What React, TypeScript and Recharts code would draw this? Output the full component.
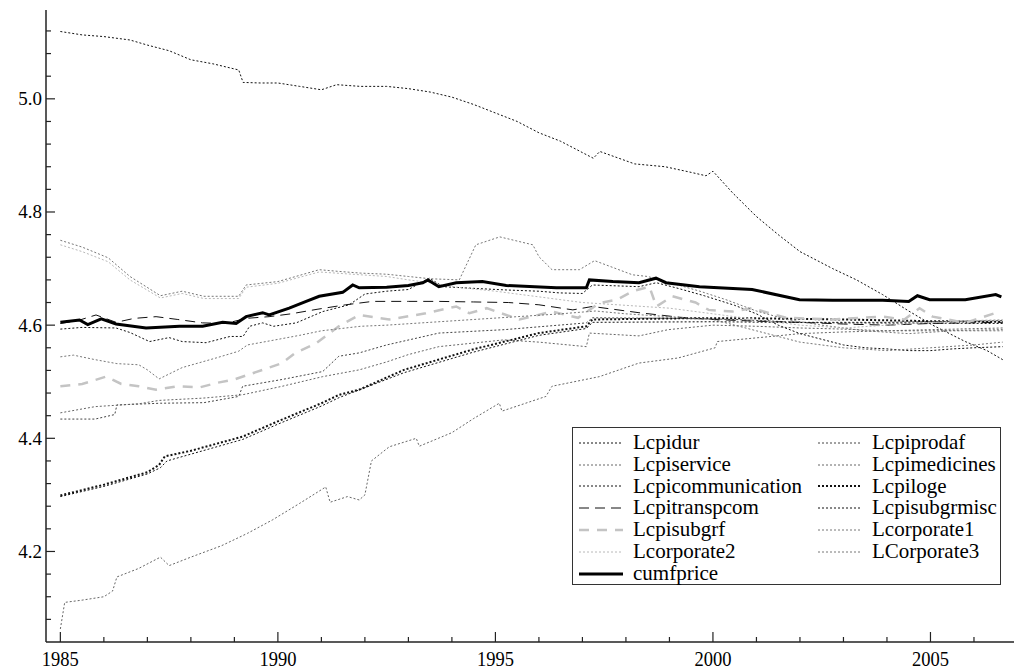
import React from "react";
import { LineChart, Line, XAxis, YAxis } from "recharts";

// [year, log price]
const lcpidur: [number, number][] = [
  [1985.0, 5.119], [1985.5, 5.113], [1986.0, 5.11], [1986.6, 5.104], [1987.0, 5.095],
  [1987.5, 5.085], [1988.0, 5.069], [1988.5, 5.062], [1989.1, 5.051], [1989.2, 5.029],
  [1989.6, 5.028], [1990.0, 5.028], [1990.5, 5.022], [1991.0, 5.016], [1991.35, 5.025],
  [1991.9, 5.022], [1992.5, 5.022], [1993.0, 5.018], [1993.5, 5.012], [1994.0, 5.003],
  [1994.5, 4.99], [1995.0, 4.975], [1995.5, 4.96], [1996.0, 4.94], [1996.5, 4.925],
  [1997.0, 4.905], [1997.25, 4.895], [1997.4, 4.907], [1998.2, 4.885], [1998.9, 4.88],
  [1999.5, 4.87], [1999.84, 4.864], [2000.0, 4.872], [2000.45, 4.834], [2001.0, 4.792],
  [2001.5, 4.76], [2002.0, 4.73], [2002.75, 4.7], [2003.3, 4.68], [2003.9, 4.654],
  [2004.5, 4.625], [2005.05, 4.6], [2005.8, 4.571], [2006.3, 4.555], [2006.66, 4.539],
];

const lcpiprodaf: [number, number][] = [
  [1985.0, 4.434], [1985.8, 4.434], [1986.25, 4.442], [1986.3, 4.459], [1987.3, 4.462],
  [1988.3, 4.463], [1989.1, 4.474], [1989.19, 4.492], [1990.1, 4.504], [1991.03, 4.518],
  [1991.4, 4.545], [1991.87, 4.551], [1992.5, 4.565], [1993.7, 4.586], [1995.2, 4.592],
  [1997.09, 4.604], [1997.23, 4.613], [1999.2, 4.612], [2000.5, 4.61], [2002.0, 4.605],
  [2004.0, 4.605], [2006.66, 4.608],
];

const lcpiservice: [number, number][] = [
  [1985.0, 4.445], [1985.8, 4.456], [1986.8, 4.461], [1987.27, 4.467], [1988.27, 4.471],
  [1989.19, 4.477], [1990.1, 4.492], [1991.03, 4.509], [1991.87, 4.521], [1992.5, 4.535],
  [1993.0, 4.548], [1993.7, 4.562], [1995.2, 4.574], [1996.0, 4.57], [1997.09, 4.562],
  [1997.16, 4.586], [1998.3, 4.581], [1998.97, 4.592], [2000.0, 4.6], [2001.0, 4.598],
  [2002.0, 4.595], [2003.0, 4.593], [2004.0, 4.59], [2005.0, 4.592], [2006.66, 4.595],
];

const lcpimedicines: [number, number][] = [
  [1985.0, 4.063], [1985.1, 4.11], [1985.5, 4.114], [1986.0, 4.12], [1986.2, 4.13],
  [1986.3, 4.155], [1986.8, 4.17], [1987.3, 4.19], [1987.5, 4.175], [1988.0, 4.19],
  [1988.7, 4.21], [1989.3, 4.232], [1989.88, 4.256], [1990.5, 4.285], [1991.1, 4.314],
  [1991.2, 4.287], [1991.6, 4.297], [1991.87, 4.291], [1992.0, 4.3], [1992.15, 4.36],
  [1992.56, 4.385], [1993.18, 4.4], [1993.25, 4.386], [1994.0, 4.41], [1994.5, 4.435],
  [1995.09, 4.462], [1995.15, 4.448], [1996.16, 4.474], [1996.3, 4.492], [1997.39, 4.509],
  [1998.3, 4.533], [1999.2, 4.542], [2000.05, 4.56], [2000.1, 4.571], [2001.2, 4.579],
  [2002.0, 4.585], [2003.0, 4.588], [2004.0, 4.59], [2005.0, 4.59], [2006.66, 4.592],
];

const lcpicommunication: [number, number][] = [
  [1985.0, 4.297], [1986.0, 4.315], [1987.0, 4.337], [1987.3, 4.348], [1987.45, 4.36],
  [1988.0, 4.372], [1989.19, 4.398], [1990.0, 4.425], [1991.0, 4.457], [1991.41, 4.472],
  [1992.9, 4.516], [1994.48, 4.552], [1996.0, 4.582], [1997.09, 4.594], [1997.23, 4.605],
  [2000.0, 4.606], [2003.0, 4.604], [2006.66, 4.603],
];

const lcpiloge: [number, number][] = [
  [1985.0, 4.299], [1986.0, 4.318], [1987.0, 4.34], [1987.27, 4.353], [1987.4, 4.368],
  [1988.0, 4.378], [1989.19, 4.403], [1990.0, 4.43], [1991.0, 4.462], [1991.41, 4.477],
  [1991.87, 4.486], [1992.9, 4.521], [1994.48, 4.557], [1996.0, 4.586], [1997.09, 4.598],
  [1997.23, 4.61], [1999.2, 4.612], [2001.0, 4.612], [2003.0, 4.61], [2005.0, 4.607],
  [2006.66, 4.606],
];

const lcpitranspcom: [number, number][] = [
  [1985.0, 4.603], [1985.4, 4.608], [1985.82, 4.618], [1986.28, 4.605], [1986.7, 4.612],
  [1987.2, 4.615], [1987.7, 4.61], [1988.27, 4.604], [1988.8, 4.603], [1989.27, 4.612],
  [1989.8, 4.615], [1990.3, 4.62], [1990.9, 4.628], [1991.56, 4.636], [1992.18, 4.642],
  [1993.0, 4.642], [1993.7, 4.642], [1994.5, 4.641], [1995.3, 4.64], [1996.0, 4.636],
  [1996.78, 4.627], [1997.23, 4.633], [1998.3, 4.622], [1999.23, 4.614], [2000.0, 4.61],
  [2001.0, 4.607], [2002.0, 4.605], [2003.0, 4.602], [2004.0, 4.6], [2005.0, 4.603],
  [2006.66, 4.605],
];

const lcpisubgrmisc: [number, number][] = [
  [1985.0, 4.593], [1985.5, 4.596], [1986.28, 4.595], [1986.6, 4.587], [1987.05, 4.571],
  [1987.5, 4.578], [1987.8, 4.571], [1988.35, 4.569], [1988.9, 4.58], [1989.2, 4.58],
  [1989.35, 4.598], [1989.65, 4.604], [1989.9, 4.598], [1990.42, 4.604], [1991.03, 4.624],
  [1991.64, 4.636], [1992.0, 4.655], [1992.5, 4.66], [1993.0, 4.663], [1993.48, 4.683],
  [1993.8, 4.668], [1994.5, 4.665], [1995.3, 4.662], [1996.0, 4.66], [1996.47, 4.657],
  [1997.0, 4.656], [1997.23, 4.671], [1998.3, 4.668], [1998.7, 4.675], [1999.2, 4.665],
  [1999.8, 4.652], [2000.5, 4.635], [2001.0, 4.62], [2001.5, 4.6], [2002.0, 4.585],
  [2002.5, 4.575], [2003.0, 4.565], [2003.5, 4.56], [2004.0, 4.558], [2004.5, 4.555],
  [2005.0, 4.555], [2005.5, 4.558], [2006.0, 4.56], [2006.66, 4.562],
];

const lcpisubgrf: [number, number][] = [
  [1985.0, 4.492], [1985.5, 4.496], [1986.05, 4.509], [1986.4, 4.496], [1986.8, 4.492],
  [1987.2, 4.486], [1987.7, 4.492], [1988.2, 4.49], [1988.6, 4.498], [1989.0, 4.504],
  [1989.65, 4.521], [1990.1, 4.533], [1990.4, 4.551], [1990.88, 4.568], [1991.4, 4.598],
  [1991.87, 4.618], [1992.56, 4.61], [1993.4, 4.621], [1994.1, 4.633], [1994.4, 4.621],
  [1994.8, 4.63], [1995.55, 4.61], [1996.3, 4.624], [1996.9, 4.613], [1997.39, 4.639],
  [1997.8, 4.645], [1998.15, 4.66], [1998.54, 4.668], [1998.7, 4.633], [1999.07, 4.651],
  [1999.6, 4.64], [1999.9, 4.627], [2000.45, 4.624], [2000.9, 4.63], [2001.68, 4.613],
  [2002.75, 4.61], [2003.9, 4.615], [2004.4, 4.61], [2004.75, 4.63], [2005.05, 4.615],
  [2005.8, 4.604], [2006.59, 4.624],
];

const lcorporate1: [number, number][] = [
  [1985.0, 4.75], [1985.5, 4.738], [1986.1, 4.719], [1986.6, 4.686], [1987.3, 4.652],
  [1987.8, 4.66], [1988.3, 4.651], [1989.1, 4.651], [1989.27, 4.671], [1990.0, 4.677],
  [1990.5, 4.688], [1990.95, 4.698], [1991.4, 4.695], [1991.9, 4.692], [1992.5, 4.69],
  [1993.0, 4.686], [1993.5, 4.682], [1994.17, 4.68], [1994.55, 4.742], [1995.1, 4.756],
  [1995.86, 4.742], [1996.0, 4.721], [1996.3, 4.698], [1996.93, 4.698], [1997.28, 4.714],
  [1998.15, 4.689], [1998.5, 4.686], [1999.2, 4.671], [1999.7, 4.66], [2000.3, 4.645],
  [2001.0, 4.625], [2001.7, 4.61], [2002.5, 4.6], [2003.5, 4.59], [2004.5, 4.585],
  [2005.5, 4.59], [2006.66, 4.59],
];

const lcorporate2: [number, number][] = [
  [1985.0, 4.742], [1985.5, 4.73], [1986.1, 4.712], [1986.6, 4.68], [1987.3, 4.648],
  [1987.8, 4.656], [1988.3, 4.647], [1989.1, 4.647], [1989.27, 4.667], [1990.0, 4.674],
  [1990.95, 4.694], [1991.9, 4.689], [1992.5, 4.686], [1993.0, 4.68], [1993.5, 4.675],
  [1994.0, 4.668], [1995.0, 4.66], [1996.0, 4.65], [1997.0, 4.64], [1998.0, 4.635],
  [1999.0, 4.63], [2000.0, 4.62], [2001.0, 4.61], [2002.0, 4.6], [2003.0, 4.595],
  [2004.0, 4.6], [2005.0, 4.605], [2006.66, 4.61],
];

const lcorporate3: [number, number][] = [
  [1985.0, 4.544], [1985.3, 4.547], [1985.8, 4.539], [1986.3, 4.532], [1986.8, 4.53],
  [1987.0, 4.521], [1987.27, 4.505], [1987.8, 4.525], [1988.58, 4.542], [1989.1, 4.554],
  [1989.3, 4.565], [1989.8, 4.572], [1990.5, 4.582], [1991.0, 4.59], [1991.9, 4.598],
  [1992.5, 4.6], [1993.5, 4.605], [1994.5, 4.61], [1995.5, 4.615], [1996.5, 4.62],
  [1997.3, 4.625], [1998.0, 4.62], [1999.0, 4.615], [2000.0, 4.61], [2000.5, 4.6],
  [2001.0, 4.59], [2001.5, 4.58], [2002.0, 4.57], [2003.0, 4.56], [2004.0, 4.555],
  [2005.0, 4.56], [2006.0, 4.565], [2006.66, 4.57],
];

const cumfprice: [number, number][] = [
  [1985.0, 4.605], [1985.44, 4.609], [1985.63, 4.601], [1985.94, 4.611], [1986.28, 4.602],
  [1986.97, 4.595], [1987.74, 4.598], [1988.27, 4.598], [1988.73, 4.605], [1989.04, 4.603],
  [1989.27, 4.615], [1989.65, 4.622], [1989.8, 4.618], [1990.26, 4.63], [1990.65, 4.642],
  [1990.95, 4.651], [1991.49, 4.658], [1991.72, 4.671], [1991.87, 4.666], [1992.5, 4.667],
  [1993.0, 4.67], [1993.33, 4.675], [1993.45, 4.68], [1993.7, 4.668], [1994.1, 4.675],
  [1994.7, 4.677], [1995.25, 4.67], [1996.4, 4.666], [1997.09, 4.666], [1997.16, 4.68],
  [1997.7, 4.677], [1998.3, 4.675], [1998.69, 4.683], [1998.92, 4.675], [1999.69, 4.668],
  [2000.9, 4.663], [2001.99, 4.645], [2002.75, 4.644], [2003.9, 4.644], [2004.5, 4.642],
  [2004.7, 4.652], [2004.98, 4.645], [2005.8, 4.645], [2006.5, 4.654], [2006.63, 4.65],
];

const xTicks = [
  1985, 1986, 1987, 1988, 1989, 1990, 1991, 1992, 1993, 1994, 1995,
  1996, 1997, 1998, 1999, 2000, 2001, 2002, 2003, 2004, 2005, 2006,
];
const yTicks = [
  4.08, 4.12, 4.16, 4.2, 4.24, 4.28, 4.32, 4.36, 4.4, 4.44, 4.48, 4.52, 4.56, 4.6,
  4.64, 4.68, 4.72, 4.76, 4.8, 4.84, 4.88, 4.92, 4.96, 5.0, 5.04, 5.08, 5.12,
];

type Style = { color: string; width: number; dash?: string };

const series: { name: string; points: [number, number][]; style: Style }[] = [
  { name: "Lcpidur", points: lcpidur, style: { color: "#111", width: 1, dash: "2 2" } },
  { name: "Lcpiprodaf", points: lcpiprodaf, style: { color: "#444", width: 1, dash: "2 2" } },
  { name: "Lcpiservice", points: lcpiservice, style: { color: "#666", width: 1, dash: "2 2" } },
  { name: "Lcpimedicines", points: lcpimedicines, style: { color: "#666", width: 1, dash: "2 2" } },
  { name: "Lcpicommunication", points: lcpicommunication, style: { color: "#111", width: 1, dash: "2 2" } },
  { name: "Lcpiloge", points: lcpiloge, style: { color: "#111", width: 2, dash: "2 2" } },
  { name: "Lcpitranspcom", points: lcpitranspcom, style: { color: "#111", width: 1, dash: "10 6" } },
  { name: "Lcpisubgrmisc", points: lcpisubgrmisc, style: { color: "#111", width: 1, dash: "2 2" } },
  { name: "Lcpisubgrf", points: lcpisubgrf, style: { color: "#c4c4c4", width: 2.5, dash: "10 8" } },
  { name: "Lcorporate1", points: lcorporate1, style: { color: "#777", width: 1, dash: "2 2" } },
  { name: "Lcorporate2", points: lcorporate2, style: { color: "#b8b8b8", width: 1, dash: "2 2" } },
  { name: "LCorporate3", points: lcorporate3, style: { color: "#777", width: 1, dash: "2 2" } },
  { name: "cumfprice", points: cumfprice, style: { color: "#000", width: 3 } },
];

const PLOT_LEFT = 46;
const PLOT_BOTTOM = 642;
const FONT = "'Liberation Serif', 'Times New Roman', serif";

const isMajorY = (v: number) => Math.abs(v * 5 - Math.round(v * 5)) < 1e-6;

const YTick = (props: any) => {
  const { y, payload } = props;
  const major = isMajorY(payload.value);
  return (
    <g>
      <line x1={PLOT_LEFT} x2={PLOT_LEFT + (major ? 9 : 5)} y1={y} y2={y} stroke="#222" strokeWidth={1.2} />
      {major && (
        <text x={PLOT_LEFT - 4} y={y} textAnchor="end" dominantBaseline="central" fontFamily={FONT} fontSize={19} fill="#000">
          {payload.value.toFixed(1)}
        </text>
      )}
    </g>
  );
};

const XTick = (props: any) => {
  const { x, payload } = props;
  const major = payload.value % 5 === 0;
  return (
    <g>
      <line x1={x} x2={x} y1={PLOT_BOTTOM} y2={PLOT_BOTTOM - (major ? 10 : 5)} stroke="#222" strokeWidth={1.2} />
      {major && (
        <text x={x} y={PLOT_BOTTOM + 24} textAnchor="middle" fontFamily={FONT} fontSize={21} fill="#000"
          textLength={37} lengthAdjust="spacingAndGlyphs">
          {payload.value}
        </text>
      )}
    </g>
  );
};

function ChartLegend() {
  return (
    <div
      style={{
        position: "absolute",
        left: 572,
        top: 427,
        width: 429,
        height: 158,
        border: "1px solid #333",
        background: "#fff",
        boxSizing: "border-box",
        display: "grid",
        gridTemplateColumns: "239px 190px",
        gridAutoRows: "21.8px",
        paddingTop: 4,
        fontFamily: FONT,
        fontSize: 21,
        color: "#000",
      }}
    >
      {series.map((s) => (
        <div key={s.name} style={{ display: "flex", alignItems: "center", whiteSpace: "nowrap", lineHeight: "21.8px" }}>
          <svg width={52} height={10} style={{ marginLeft: 6, marginRight: 2, flex: "none" }}>
            <line x1={0} x2={44} y1={5} y2={5} stroke={s.style.color} strokeWidth={s.style.width}
              strokeDasharray={s.style.dash} />
          </svg>
          <span>{s.name}</span>
        </div>
      ))}
    </div>
  );
}

export default function App() {
  return (
    <div style={{ position: "absolute", left: 0, top: 0, width: 1018, height: 672, background: "#fff" }}>
      <LineChart width={1018} height={672} margin={{ top: 10, right: 4, bottom: 0, left: 0 }}>
        <XAxis
          type="number"
          dataKey="x"
          domain={[1984.67, 2006.92]}
          ticks={xTicks}
          interval={0}
          allowDataOverflow
          height={30}
          tickLine={false}
          axisLine={{ stroke: "#222", strokeWidth: 1.5 }}
          tick={<XTick />}
        />
        <YAxis
          type="number"
          domain={[4.04, 5.157]}
          ticks={yTicks}
          interval={0}
          allowDataOverflow
          width={46}
          tickLine={false}
          axisLine={{ stroke: "#222", strokeWidth: 1.5 }}
          tick={<YTick />}
        />
        {series.map((s) => (
          <Line
            key={s.name}
            data={s.points.map(([x, y]) => ({ x, y }))}
            dataKey="y"
            name={s.name}
            type="linear"
            stroke={s.style.color}
            strokeWidth={s.style.width}
            strokeDasharray={s.style.dash}
            dot={false}
            activeDot={false}
            isAnimationActive={false}
          />
        ))}
      </LineChart>
      <ChartLegend />
    </div>
  );
}
